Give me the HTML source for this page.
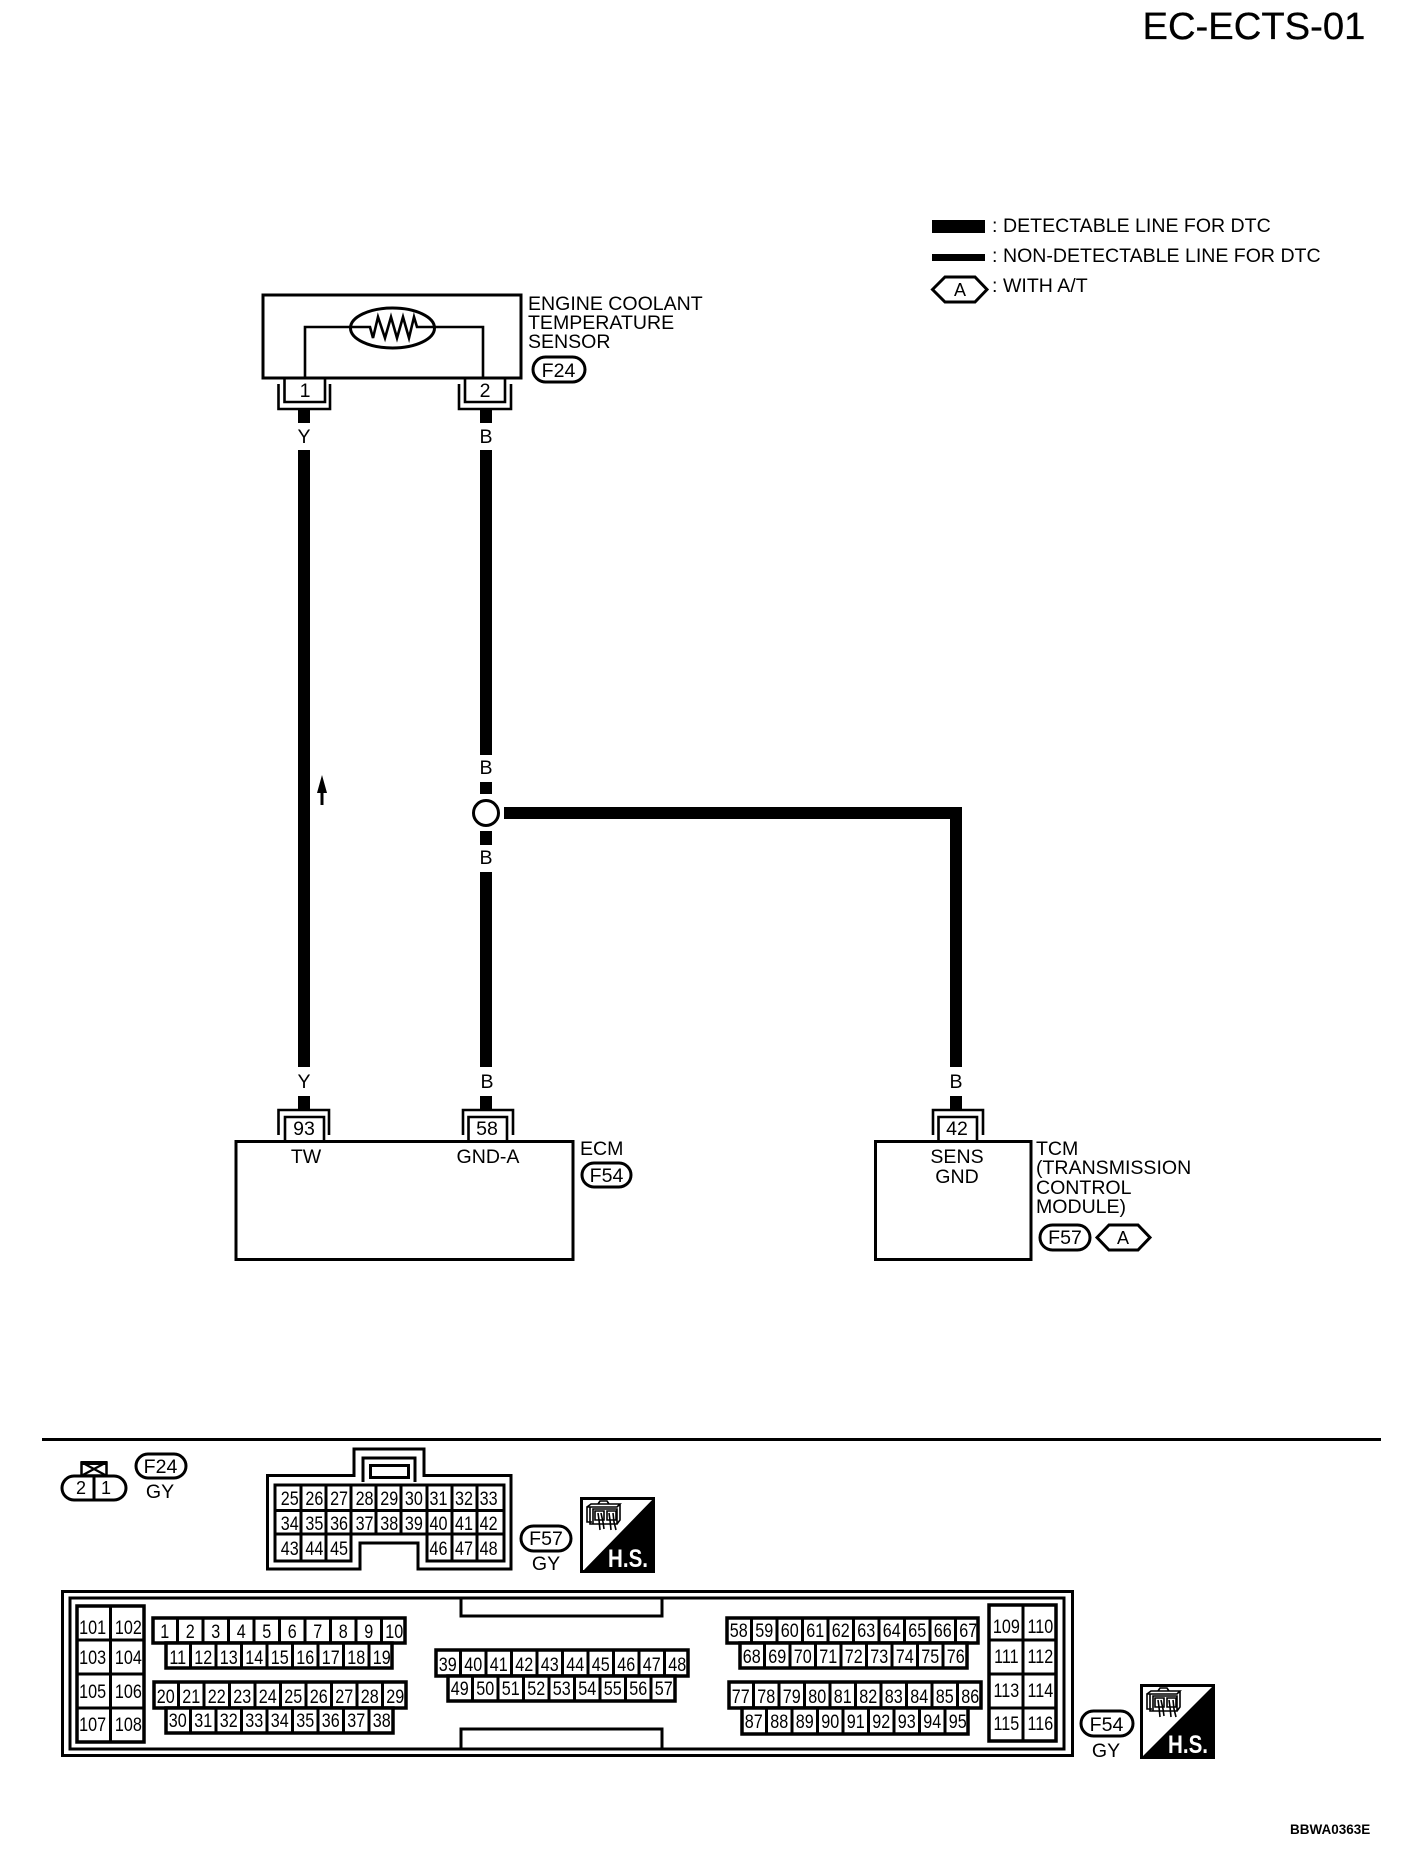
<!DOCTYPE html>
<html><head><meta charset="utf-8"><style>
html,body{margin:0;padding:0;background:#fff}
svg{display:block}
text{font-family:"Liberation Sans",sans-serif;fill:#000;font-size:19.55px}
.m{text-anchor:middle}
.l{fill:none;stroke:#000;stroke-width:2.6}
.c{fill:#fff;stroke:#000;stroke-width:3.5}
.n text{text-anchor:middle;font-size:19px}
</style></head><body>
<svg width="1408" height="1862" viewBox="0 0 1408 1862" xmlns="http://www.w3.org/2000/svg">
<rect width="1408" height="1862" fill="#fff"/>
<text x="1142.500" y="39" style="font-size:38.2px;stroke:#000;stroke-width:.3">EC-ECTS-01</text>

<!-- legend -->
<rect x="932" y="220" width="53" height="13"/>
<rect x="932" y="254" width="53" height="7"/>
<polygon class="l" points="932.5,289.5 945,277 975,277 987,289.5 975,302 945,302" style="stroke-width:3"/>
<text x="960" y="296" class="m" style="font-size:18px">A</text>
<text x="992" y="232">:</text><text x="1003" y="232">DETECTABLE LINE FOR DTC</text>
<text x="992" y="262">:</text><text x="1003" y="262">NON-DETECTABLE LINE FOR DTC</text>
<text x="992" y="292">:</text><text x="1003" y="292">WITH A/T</text>

<!-- sensor -->
<rect x="263" y="295" width="258" height="83" class="l" style="stroke-width:3"/>
<path class="l" d="M305,378V327H351M433,327H483V378"/>
<ellipse cx="392.5" cy="328" rx="42" ry="20" class="l" style="stroke-width:3"/>
<polyline class="l" points="351,327 370,327 373,338 378,317 385,338 391,317 397,338 403,317 409,338 414,317 417,327 433,327"/>
<path class="l" d="M284.5,378V402H325V378M465,378V402H505V378M278.5,384V409H330V384M459,384V409H511V384"/>
<text x="305" y="397" class="m">1</text><text x="485" y="397" class="m">2</text>
<text x="528" y="310">ENGINE COOLANT</text>
<text x="528" y="329">TEMPERATURE</text>
<text x="528" y="348">SENSOR</text>
<rect x="533" y="357" width="52" height="25" rx="12.5" class="l" style="stroke-width:3"/>
<text x="558.5" y="377" class="m">F24</text>

<!-- wires -->
<rect x="298" y="410" width="12" height="13"/><rect x="480" y="410" width="12" height="13"/>
<text x="304" y="443" class="m">Y</text><text x="486" y="443" class="m">B</text>
<rect x="298" y="450" width="12" height="617"/>
<rect x="480" y="450" width="12" height="305"/>
<text x="486" y="774" class="m">B</text>
<rect x="480" y="782" width="12" height="12"/>
<circle cx="486" cy="813" r="12.5" class="l" style="stroke-width:3;fill:#fff"/>
<rect x="480" y="831" width="12" height="14"/>
<text x="486" y="864" class="m">B</text>
<rect x="480" y="872" width="12" height="195"/>
<path d="M504,807H962V1067H950V819H504Z"/>
<path d="M322,775L327,793H323.5V805H320.5V793H317Z"/>

<!-- bottom labels -->
<text x="304" y="1088" class="m">Y</text><text x="487" y="1088" class="m">B</text><text x="956" y="1088" class="m">B</text>
<rect x="298" y="1096" width="12" height="13"/><rect x="480" y="1096" width="12" height="13"/><rect x="950" y="1096" width="12" height="13"/>
<path class="l" d="M278.5,1135V1110H329V1135M463,1135V1110H513V1135M933,1135V1110H983V1135"/>
<path class="l" d="M285,1140V1117H324V1140M468.5,1140V1117H507V1140M938.5,1140V1117H977V1140"/>
<text x="304" y="1135" class="m">93</text><text x="487" y="1135" class="m">58</text><text x="957" y="1135" class="m">42</text>

<!-- ECM -->
<rect x="236" y="1141.5" width="337" height="118" class="l" style="stroke-width:3"/>
<text x="306" y="1163" class="m">TW</text><text x="488" y="1163" class="m">GND-A</text>
<text x="580" y="1155">ECM</text>
<rect x="582" y="1163" width="49" height="24" rx="12" class="l" style="stroke-width:3"/>
<text x="606.5" y="1182" class="m">F54</text>

<!-- TCM -->
<rect x="875.5" y="1141.5" width="155.5" height="118" class="l" style="stroke-width:3"/>
<text x="957" y="1163" class="m">SENS</text><text x="957" y="1183" class="m">GND</text>
<text x="1036" y="1155">TCM</text>
<text x="1036" y="1174">(TRANSMISSION</text>
<text x="1036" y="1194">CONTROL</text>
<text x="1036" y="1213">MODULE)</text>
<rect x="1040" y="1225" width="50" height="25" rx="12.5" class="l" style="stroke-width:3"/>
<text x="1065" y="1244" class="m">F57</text>
<polygon class="l" points="1097,1237.5 1109,1225 1138,1225 1150,1237.5 1138,1250 1109,1250" style="stroke-width:3"/>
<text x="1123" y="1244" class="m" style="font-size:18px">A</text>

<!-- divider -->
<rect x="42" y="1438" width="1339" height="3"/>

<!-- F24 connector -->
<rect x="81.5" y="1462.5" width="25" height="13" class="l" style="stroke-width:2.5"/>
<path d="M81,1462L107,1476M107,1462L81,1476" stroke="#000" stroke-width="2.2"/>
<rect x="81" y="1461" width="26" height="4"/>
<rect x="62" y="1476" width="64" height="24" rx="12" fill="#fff" stroke="#000" stroke-width="3"/>
<path class="l" d="M94,1476V1500" style="stroke-width:3"/>
<text x="81" y="1494" class="m" style="font-size:18px">2</text><text x="106" y="1494" class="m" style="font-size:18px">1</text>
<rect x="136" y="1454" width="50" height="24" rx="12" class="l" style="stroke-width:3"/>
<text x="160.5" y="1473" class="m">F24</text>
<text x="160" y="1498" class="m">GY</text>

<!-- F57 connector -->
<path class="l" style="stroke-width:3" d="M267.5,1475.5H354V1449H424V1475.5H511V1569H418V1543H360V1569H267.5Z"/>
<path class="l" style="stroke-width:3" d="M363,1482V1458H415V1482"/>
<rect x="370.5" y="1465.5" width="38" height="12" class="l" style="stroke-width:3"/>
<path class="c" style="stroke-width:3" d="M275,1485H504V1561H427V1534H351V1561H275Z"/>
<path class="l" style="stroke-width:3" d="M275,1510.500H504M275,1534H504M301,1485V1561M326,1485V1561M351,1485V1534M376,1485V1534M401,1485V1534M427,1485V1561M452,1485V1561M477,1485V1561"/>
<g class="n">
<g transform="translate(277 1505) scale(.85 1)"><text x="15">25</text><text x="44">26</text><text x="73">27</text><text x="103">28</text><text x="132">29</text><text x="161">30</text><text x="190">31</text><text x="220">32</text><text x="249">33</text></g>
<g transform="translate(277 1530) scale(.85 1)"><text x="15">34</text><text x="44">35</text><text x="73">36</text><text x="103">37</text><text x="132">38</text><text x="161">39</text><text x="190">40</text><text x="220">41</text><text x="249">42</text></g>
<g transform="translate(277 1555) scale(.85 1)"><text x="15">43</text><text x="44">44</text><text x="73">45</text><text x="190">46</text><text x="220">47</text><text x="249">48</text></g>
</g>
<rect x="521" y="1526" width="50" height="25" rx="12.5" class="l" style="stroke-width:3"/>
<text x="546" y="1545" class="m">F57</text>
<text x="546" y="1570" class="m">GY</text>
<!-- HS 1 -->
<rect x="581.5" y="1498.5" width="72" height="73" fill="#fff" stroke="#000" stroke-width="3"/>
<polygon points="655,1497 655,1573 581,1573"/>
<g class="l" style="stroke-width:1.6">
<path d="M587,1507L591,1504H620L617,1507H587V1522H592M590,1507V1524H593M593,1509H617V1524H593ZM620,1504V1520L617,1524M598,1504L600,1501H607L609,1504"/>
<path d="M595,1511H604V1520H595ZM607,1511H616V1520H607Z"/>
<path d="M598,1513L599,1520L600,1530M601,1513L603,1522L604,1529M609,1513L610,1520L611,1530M613,1513L614,1522L616,1530"/>
</g>
<text x="628" y="1567" class="m" textLength="40" lengthAdjust="spacingAndGlyphs" style="font-size:25px;font-weight:bold;fill:#fff">H.S.</text>

<!-- F54 connector -->
<rect x="62.5" y="1591.5" width="1010" height="164" class="l" style="stroke-width:3"/>
<rect x="70" y="1598" width="994" height="151" class="l" style="stroke-width:3"/>
<path class="l" style="stroke-width:3" d="M461,1598V1616H662V1598M461,1749V1729H662V1749"/>
<!-- left block -->
<rect x="77" y="1606" width="67" height="136" class="c"/>
<path class="l" style="stroke-width:3" d="M110.5,1606V1742M77,1640H144M77,1674H144M77,1708H144"/>
<!-- right block -->
<rect x="989" y="1605" width="67" height="136" class="c"/>
<path class="l" style="stroke-width:3" d="M1023,1605V1741M989,1640H1056M989,1674H1056M989,1708H1056"/>
<g class="n">
<g transform="scale(.85 1)">
<text x="109" y="1634">101</text><text x="151" y="1634">102</text>
<text x="109" y="1664">103</text><text x="151" y="1664">104</text>
<text x="109" y="1698">105</text><text x="151" y="1698">106</text>
<text x="109" y="1731">107</text><text x="151" y="1731">108</text>
<text x="1184" y="1633">109</text><text x="1224" y="1633">110</text>
<text x="1184" y="1663">111</text><text x="1224" y="1663">112</text>
<text x="1184" y="1697">113</text><text x="1224" y="1697">114</text>
<text x="1184" y="1730">115</text><text x="1224" y="1730">116</text>
</g></g>

<!-- pin rows -->
<rect x="153" y="1618" width="252" height="25" class="c"/>
<path class="l" style="stroke-width:3" d="M177.5,1618V1643M203,1618V1643M228.5,1618V1643M254,1618V1643M279.5,1618V1643M305,1618V1643M330.5,1618V1643M356,1618V1643M381.5,1618V1643"/>
<rect x="166" y="1643" width="226" height="25" class="c"/>
<path class="l" style="stroke-width:3" d="M190.5,1643V1668M216,1643V1668M241.5,1643V1668M267,1643V1668M292.5,1643V1668M318,1643V1668M343.5,1643V1668M369,1643V1668"/>
<rect x="154" y="1682" width="252" height="26" class="c"/>
<path class="l" style="stroke-width:3" d="M178.5,1682V1708M204,1682V1708M229.5,1682V1708M255,1682V1708M280.5,1682V1708M306,1682V1708M331.5,1682V1708M357,1682V1708M382.5,1682V1708"/>
<rect x="166" y="1708" width="227" height="25" class="c"/>
<path class="l" style="stroke-width:3" d="M190.5,1708V1733M216,1708V1733M241.5,1708V1733M267,1708V1733M292.5,1708V1733M318,1708V1733M343.5,1708V1733M369,1708V1733"/>
<rect x="436" y="1650" width="252" height="26" class="c"/>
<path class="l" style="stroke-width:3" d="M460.5,1650V1676M486,1650V1676M511.5,1650V1676M537,1650V1676M562.5,1650V1676M588,1650V1676M613.5,1650V1676M639,1650V1676M664.5,1650V1676"/>
<rect x="448" y="1676" width="227" height="25" class="c"/>
<path class="l" style="stroke-width:3" d="M472.5,1676V1701M498,1676V1701M523.5,1676V1701M549,1676V1701M574.5,1676V1701M600,1676V1701M625.5,1676V1701M651,1676V1701"/>
<rect x="727" y="1618" width="251" height="25" class="c"/>
<path class="l" style="stroke-width:3" d="M751.5,1618V1643M777,1618V1643M802.5,1618V1643M828,1618V1643M853.5,1618V1643M879,1618V1643M904.5,1618V1643M930,1618V1643M955.500,1618V1643"/>
<rect x="740" y="1643" width="227" height="25" class="c"/>
<path class="l" style="stroke-width:3" d="M764.5,1643V1668M790,1643V1668M815.5,1643V1668M841,1643V1668M866.5,1643V1668M892,1643V1668M917.5,1643V1668M943,1643V1668"/>
<rect x="729" y="1682" width="252" height="26" class="c"/>
<path class="l" style="stroke-width:3" d="M753.5,1682V1708M779,1682V1708M804.5,1682V1708M830,1682V1708M855.5,1682V1708M881,1682V1708M906.5,1682V1708M932,1682V1708M957.5,1682V1708"/>
<rect x="742" y="1708" width="226" height="26" class="c"/>
<path class="l" style="stroke-width:3" d="M766.5,1708V1734M792,1708V1734M817.5,1708V1734M843,1708V1734M868.5,1708V1734M894,1708V1734M919.5,1708V1734M945,1708V1734"/>

<g class="n">
<g transform="translate(152 1638) scale(.85 1)"><text x="15">1</text><text x="45">2</text><text x="75">3</text><text x="105">4</text><text x="135">5</text><text x="165">6</text><text x="195">7</text><text x="225">8</text><text x="255">9</text><text x="285">10</text></g>
<g transform="translate(165 1664) scale(.85 1)"><text x="15">11</text><text x="45">12</text><text x="75">13</text><text x="105">14</text><text x="135">15</text><text x="165">16</text><text x="195">17</text><text x="225">18</text><text x="255">19</text></g>
<g transform="translate(153 1703) scale(.85 1)"><text x="15">20</text><text x="45">21</text><text x="75">22</text><text x="105">23</text><text x="135">24</text><text x="165">25</text><text x="195">26</text><text x="225">27</text><text x="255">28</text><text x="285">29</text></g>
<g transform="translate(165 1727) scale(.85 1)"><text x="15">30</text><text x="45">31</text><text x="75">32</text><text x="105">33</text><text x="135">34</text><text x="165">35</text><text x="195">36</text><text x="225">37</text><text x="255">38</text></g>
<g transform="translate(435 1671) scale(.85 1)"><text x="15">39</text><text x="45">40</text><text x="75">41</text><text x="105">42</text><text x="135">43</text><text x="165">44</text><text x="195">45</text><text x="225">46</text><text x="255">47</text><text x="285">48</text></g>
<g transform="translate(447 1695) scale(.85 1)"><text x="15">49</text><text x="45">50</text><text x="75">51</text><text x="105">52</text><text x="135">53</text><text x="165">54</text><text x="195">55</text><text x="225">56</text><text x="255">57</text></g>
<g transform="translate(726 1637) scale(.85 1)"><text x="15">58</text><text x="45">59</text><text x="75">60</text><text x="105">61</text><text x="135">62</text><text x="165">63</text><text x="195">64</text><text x="225">65</text><text x="255">66</text><text x="285">67</text></g>
<g transform="translate(739 1663) scale(.85 1)"><text x="15">68</text><text x="45">69</text><text x="75">70</text><text x="105">71</text><text x="135">72</text><text x="165">73</text><text x="195">74</text><text x="225">75</text><text x="255">76</text></g>
<g transform="translate(728 1703) scale(.85 1)"><text x="15">77</text><text x="45">78</text><text x="75">79</text><text x="105">80</text><text x="135">81</text><text x="165">82</text><text x="195">83</text><text x="225">84</text><text x="255">85</text><text x="285">86</text></g>
<g transform="translate(741 1728) scale(.85 1)"><text x="15">87</text><text x="45">88</text><text x="75">89</text><text x="105">90</text><text x="135">91</text><text x="165">92</text><text x="195">93</text><text x="225">94</text><text x="255">95</text></g>
</g>

<rect x="1081" y="1711" width="52" height="25" rx="12.5" class="l" style="stroke-width:3"/>
<text x="1106.5" y="1731" class="m">F54</text>
<text x="1106" y="1757" class="m">GY</text>
<!-- HS 2 -->
<rect x="1141.5" y="1685.5" width="72" height="72" fill="#fff" stroke="#000" stroke-width="3"/>
<polygon points="1215,1684 1215,1759 1140,1759"/>
<g class="l" style="stroke-width:1.6" transform="translate(560 187)">
<path d="M587,1507L591,1504H620L617,1507H587V1522H592M590,1507V1524H593M593,1509H617V1524H593ZM620,1504V1520L617,1524M598,1504L600,1501H607L609,1504"/>
<path d="M595,1511H604V1520H595ZM607,1511H616V1520H607Z"/>
<path d="M598,1513L599,1520L600,1530M601,1513L603,1522L604,1529M609,1513L610,1520L611,1530M613,1513L614,1522L616,1530"/>
</g>
<text x="1188" y="1753" class="m" textLength="40" lengthAdjust="spacingAndGlyphs" style="font-size:25px;font-weight:bold;fill:#fff">H.S.</text>

<text x="1290" y="1834" style="font-size:13.5px;font-weight:bold">BBWA0363E</text>
</svg>
</body></html>
